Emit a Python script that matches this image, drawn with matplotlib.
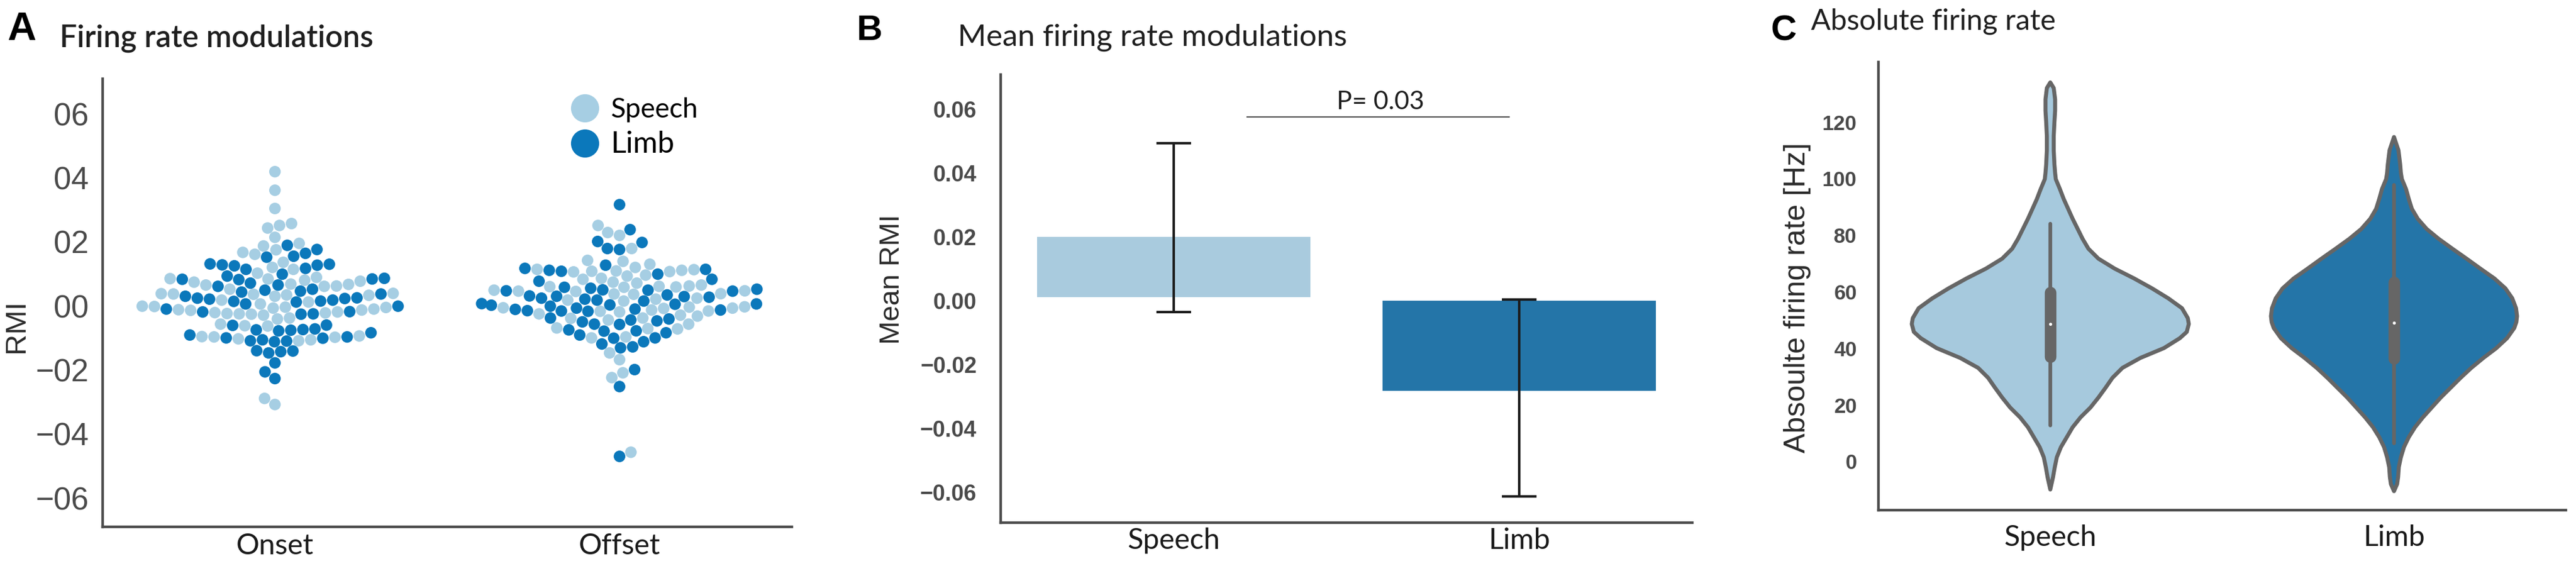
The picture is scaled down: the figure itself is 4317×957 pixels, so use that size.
import numpy as np
import pandas as pd
import matplotlib
matplotlib.use("Agg")
import matplotlib.pyplot as plt
from matplotlib import font_manager as fm
from matplotlib.lines import Line2D
import seaborn as sns

# ---------------- data ----------------
phases = ["Onset", "Offset"]
groups = ["Speech", "Limb"]

onset_speech = [0.419, 0.361, 0.304, 0.257, 0.251, 0.243, 0.214, 0.195, 0.187, 0.175,
                0.167, 0.161, 0.136, 0.114, 0.102, 0.120, 0.089, 0.085, 0.084, 0.077,
                0.068, 0.061, 0.062, 0.065, 0.052, 0.067, 0.074, 0.080, 0.037, 0.036,
                0.038, 0.034, 0.018, 0.030, 0.033, 0.039, -0.001, 0.012, 0.006, -0.002,
                -0.007, -0.013, -0.019, -0.022, -0.004, -0.025, -0.029, -0.014, -0.021, -0.038,
                -0.026, -0.024, -0.012, -0.010, -0.005, -0.041, -0.063, -0.057, -0.062, -0.097,
                -0.103, -0.106, -0.098, -0.109, -0.096, -0.094, -0.289, -0.308]
onset_limb = [0.189, 0.176, 0.164, 0.155, 0.152, 0.130, 0.125, 0.114, 0.117, 0.127,
              0.128, 0.131, 0.099, 0.083, 0.082, 0.065, 0.071, 0.049, 0.061, 0.084,
              0.086, 0.093, 0.046, 0.030, 0.018, 0.012, 0.015, 0.024, 0.023, 0.006,
              0.014, 0.025, 0.037, 0.043, 0.052, 0.021, -0.001, -0.010, -0.025, -0.019,
              -0.026, -0.018, -0.060, -0.075, -0.061, -0.076, -0.078, -0.091, -0.100, -0.109,
              -0.101, -0.112, -0.110, -0.106, -0.097, -0.084, -0.074, -0.072, -0.140, -0.147,
              -0.143, -0.141, -0.178, -0.206, -0.227]
offset_speech = [0.251, 0.220, 0.229, 0.179, 0.142, 0.130, 0.114, 0.139, 0.120, 0.113,
                 0.111, 0.096, 0.083, 0.093, 0.086, 0.108, 0.107, 0.109, 0.106, 0.074,
                 0.061, 0.049, 0.065, 0.060, 0.046, 0.062, 0.045, 0.071, 0.059, 0.058,
                 0.047, 0.037, -0.007, -0.016, -0.032, -0.008, -0.019, 0.015, 0.021, 0.036,
                 0.038, 0.018, 0.024, -0.004, -0.006, -0.017, -0.038, -0.044, -0.069, -0.072,
                 -0.039, -0.025, -0.057, -0.029, -0.003, -0.013, -0.097, -0.100, -0.071, -0.147,
                 -0.168, -0.209, -0.224, -0.457]
offset_limb = [0.316, 0.238, 0.201, 0.198, 0.179, 0.176, 0.111, 0.108, 0.127, 0.083,
               0.099, 0.114, 0.117, 0.034, 0.046, 0.030, 0.018, 0.052, 0.058, 0.077,
               0.049, 0.031, 0.021, -0.001, 0.015, -0.038, -0.007, 0.006, 0.024, -0.010,
               0.005, 0.029, 0.047, 0.027, 0.050, 0.055, 0.007, -0.013, -0.016, -0.078,
               -0.057, -0.079, -0.050, -0.047, -0.015, 0.002, -0.017, -0.011, 0.003, -0.100,
               -0.119, -0.131, -0.101, -0.084, -0.075, -0.112, -0.128, -0.091, -0.058, -0.044,
               -0.041, -0.199, -0.252, -0.470]

rmi_ticks = [0.6, 0.4, 0.2, 0.0, -0.2, -0.4, -0.6]
rmi_ticklabels = ["06", "04", "02", "00", "\u221202", "\u221204", "\u221206"]

# panel B
bar_bottom = [0.0011, 0.0]
bar_top = [0.0200, -0.0283]
err_high = [0.0493, 0.0004]
err_low = [-0.0036, -0.0613]
p_text = "P= 0.03"
p_line_y = 0.0576
meanrmi_ticks = [0.06, 0.04, 0.02, 0.00, -0.02, -0.04, -0.06]
meanrmi_ticklabels = ["0.06", "0.04", "0.02", "0.00", "\u22120.02", "\u22120.04", "\u22120.06"]

# panel C: violin outlines (value, half-width in category units)
speech_vy = [134, 132, 128, 124, 120, 115, 110, 105, 102, 99.8, 96.3, 92.8, 85.8, 78.7,
             75.2, 71.7, 68.2, 64.7, 61.2, 57.7, 54.2, 50.7, 48.6, 45.8, 43.6, 40.1, 36.6,
             33.1, 29.6, 26.1, 22.6, 19.1, 15.6, 12.1, 8.6, 5.1, 1.5, -2.0, -5.5, -9.9]
speech_hw = [0, 0.010, 0.014, 0.014, 0.012, 0.010, 0.010, 0.012, 0.014, 0.016, 0.028,
             0.039, 0.065, 0.094, 0.111, 0.140, 0.187, 0.244, 0.296, 0.343, 0.383, 0.400,
             0.403, 0.397, 0.377, 0.331, 0.262, 0.210, 0.181, 0.161, 0.140, 0.117, 0.088,
             0.065, 0.048, 0.031, 0.019, 0.013, 0.008, 0]
limb_vy = [114.7, 110, 105, 102, 99.8, 96.3, 92.8, 89.3, 85.8, 82.2, 78.7, 75.2, 71.7,
           68.2, 64.7, 61.2, 57.7, 54.2, 51.4, 49.3, 47.2, 43.6, 40.1, 36.6, 33.1, 29.6,
           26.1, 22.6, 19.1, 15.6, 12.1, 8.6, 5.1, 1.5, -2.0, -5.5, -8.0, -10.5]
limb_hw = [0, 0.013, 0.018, 0.020, 0.023, 0.035, 0.043, 0.052, 0.069, 0.095, 0.130,
           0.170, 0.211, 0.251, 0.292, 0.324, 0.344, 0.355, 0.358, 0.356, 0.350, 0.329,
           0.298, 0.260, 0.225, 0.194, 0.165, 0.136, 0.110, 0.084, 0.061, 0.043, 0.029,
           0.020, 0.014, 0.012, 0.009, 0]
whisker_low = [12.8, 6.5]
whisker_high = [84.0, 97.7]
box_low = [37.0, 36.3]
box_high = [59.8, 63.3]
medians = [48.6, 49.1]
rate_ticks = [0, 20, 40, 60, 80, 100, 120]

# ---------------- styling ----------------
dot_colors = {"Speech": "#a6cee3", "Limb": "#0b78bb"}
bar_colors = ["#a9cbde", "#2475a8"]
violin_colors = ["#a6c9dd", "#2475a8"]
inner_gray = "#666666"
spine_gray = "#4d4d4d"


def pick(names):
    avail = {f.name for f in fm.fontManager.ttflist}
    for n in names:
        if n in avail:
            return n
    return "DejaVu Sans"


HUM = pick(["Lato", "Open Sans", "Noto Sans", "DejaVu Sans"])
ARIAL = pick(["Liberation Sans", "DejaVu Sans"])

W, H = 4317, 957
fig = plt.figure(figsize=(W / 100, H / 100), dpi=100)
fig.patch.set_facecolor("white")


def make_ax(left, right, top, bottom):
    return fig.add_axes([left / W, (H - bottom) / H, (right - left) / W, (bottom - top) / H])


axA = make_ax(172, 1327, 131.5, 883)
axB = make_ax(1677, 2836, 125, 876)
axC = make_ax(3148, 4300, 104, 855)

for ax in (axA, axB, axC):
    for s in ("top", "right"):
        ax.spines[s].set_visible(False)
    for s in ("left", "bottom"):
        ax.spines[s].set_color(spine_gray)
        ax.spines[s].set_linewidth(3.2)
    ax.set_facecolor("white")

# ---------------- Panel A ----------------
rows = []
for ph, sp, lb in (("Onset", onset_speech, onset_limb), ("Offset", offset_speech, offset_limb)):
    for v in sp:
        rows.append((ph, "Speech", v))
    for v in lb:
        rows.append((ph, "Limb", v))
df = pd.DataFrame(rows, columns=["phase", "group", "RMI"])
sns.swarmplot(data=df, x="phase", y="RMI", hue="group", order=phases, hue_order=groups,
              palette=dot_colors, size=14, linewidth=0, ax=axA, legend=False)
axA.set_xlim(-0.5, 1.5)
axA.set_ylim(-0.69, 0.71)
axA.set_yticks(rmi_ticks)
axA.set_yticklabels(rmi_ticklabels, fontsize=38, family=ARIAL, color="#4a4a4a")
axA.tick_params(axis="y", length=0, pad=17)
axA.tick_params(axis="x", length=0, pad=7)
axA.set_xticks([0, 1])
axA.set_xticklabels(phases, fontsize=35, family=HUM, color="#1a1a1a")
axA.set_xlabel("")
axA.set_ylabel("RMI", fontsize=35, family=ARIAL, color="#2b2b2b")
axA.yaxis.set_label_coords(-0.1255, 0.448)
axA.yaxis.label.set(va="center", ha="center", rotation_mode="anchor")

handles = [Line2D([], [], marker="o", ls="", markersize=34, markerfacecolor=dot_colors[g],
                  markeredgewidth=0) for g in groups]
leg = axA.legend(handles, groups, loc="upper left", bbox_to_anchor=(0.680, 0.958),
                 frameon=False, handlelength=1.0, handletextpad=0.45, labelspacing=0.3,
                 borderpad=0, borderaxespad=0, prop={"family": HUM, "size": 33})
leg.get_texts()[1].set_fontsize(36)

# ---------------- Panel B ----------------
xb = np.arange(len(groups))
heights = np.array(bar_top) - np.array(bar_bottom)
axB.bar(xb, heights, bottom=bar_bottom, width=0.79, color=bar_colors, linewidth=0)
yb = np.array(bar_top)
yerr = [yb - np.array(err_low), np.array(err_high) - yb]
axB.errorbar(xb, yb, yerr=yerr, fmt="none", ecolor="#1c1c1c", elinewidth=3.0,
             capsize=21, capthick=3.0)
axB.plot([0.212, 0.971], [p_line_y, p_line_y], color="#555555", lw=1.6)
axB.text(0.598, 0.0599, p_text, ha="center", va="baseline", fontsize=31, family=HUM,
         color="#1f1f1f")
axB.set_xlim(-0.5, 1.5)
axB.set_ylim(-0.0696, 0.0708)
axB.set_yticks(meanrmi_ticks)
axB.set_yticklabels(meanrmi_ticklabels, fontsize=27, family=ARIAL, fontweight="bold",
                    color="#4a4a4a")
axB.set_xticks(xb)
axB.set_xticklabels(groups, fontsize=35, family=HUM, color="#1a1a1a")
axB.tick_params(axis="y", length=0, pad=29)
axB.tick_params(axis="x", length=0, pad=6)
axB.set_ylabel("Mean RMI", fontsize=34, family=ARIAL, color="#2b2b2b")
axB.yaxis.set_label_coords(-0.157, 0.543)
axB.yaxis.label.set(va="center", ha="center", rotation_mode="anchor")

# ---------------- Panel C ----------------
for i, (vy, hw) in enumerate(((speech_vy, speech_hw), (limb_vy, limb_hw))):
    vy = np.array(vy)
    hw = np.array(hw)
    xs = np.concatenate([i + hw, (i - hw)[::-1]])
    ys = np.concatenate([vy, vy[::-1]])
    axC.fill(xs, ys, facecolor=violin_colors[i], edgecolor=inner_gray, linewidth=4.8,
             joinstyle="round", zorder=1)
    axC.plot([i, i], [whisker_low[i], whisker_high[i]], color=inner_gray, lw=4.5,
             solid_capstyle="round", zorder=2)
    axC.plot([i, i], [box_low[i], box_high[i]], color=inner_gray, lw=14,
             solid_capstyle="round", zorder=2)
    axC.scatter([i], [medians[i]], s=14, color="white", zorder=3, linewidths=0)
axC.set_xlim(-0.5, 1.5)
axC.set_ylim(-17.2, 141.2)
axC.set_yticks(rate_ticks)
axC.set_yticklabels([str(t) for t in rate_ticks], fontsize=25, family=ARIAL,
                    fontweight="bold", color="#4a4a4a")
axC.set_xticks([0, 1])
axC.set_xticklabels(groups, fontsize=35, family=HUM, color="#1a1a1a")
axC.tick_params(axis="y", length=0, pad=26)
axC.tick_params(axis="x", length=0, pad=17)
axC.set_ylabel("Absoulte firing rate [Hz]", fontsize=36, family=ARIAL, color="#2b2b2b")
axC.yaxis.set_label_coords(-0.118, 0.474)
axC.yaxis.label.set(va="center", ha="center", rotation_mode="anchor")

# ---------------- panel letters & titles ----------------
def ftext(x, y, s, **kw):
    fig.text(x / W, 1 - y / H, s, va="baseline", ha="left", **kw)


ftext(12, 67, "A", fontsize=48, family=ARIAL, fontweight="bold", color="black")
ftext(1436, 67, "B", fontsize=43, family=ARIAL, fontweight="bold", color="black")
ftext(2968, 67, "C", fontsize=43, family=ARIAL, fontweight="bold", color="black")
ftext(100, 79, "Firing rate modulations", fontsize=37, family=HUM, fontweight="semibold",
      color="#1f1f1f")
ftext(1605, 76, "Mean firing rate modulations", fontsize=37, family=HUM, color="#1f1f1f")
ftext(3035, 49, "Absolute firing rate", fontsize=35, family=HUM, color="#1f1f1f")

fig.savefig("out.png", dpi=100, facecolor="white")
